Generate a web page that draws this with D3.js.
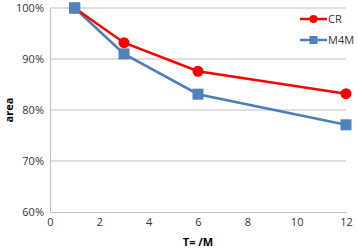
<!DOCTYPE html>
<html>
<head>
<meta charset="utf-8">
<script src="https://cdn.jsdelivr.net/npm/d3@7"></script>
<style>
  body { margin: 0; background: #fff; }
  svg text { font-family: "Open Sans", "Liberation Sans", sans-serif; }
</style>
</head>
<body>
<div id="chart"></div>
<script>
// data
const xVals = [1, 3, 6, 12];
const crVals = [1.00, 0.932, 0.876, 0.832];
const m4mVals = [1.00, 0.91, 0.831, 0.771];
const xTicks = [0, 2, 4, 6, 8, 10, 12];
const yTicks = [0.6, 0.7, 0.8, 0.9, 1.0];
const seriesNames = ["CR", "M4M"];

const width = 358, height = 251;
const margin = {top: 8, right: 12, bottom: 39, left: 50};

const svg = d3.select("#chart").append("svg")
  .attr("width", width)
  .attr("height", height);

const x = d3.scaleLinear().domain([0, 12]).range([margin.left, width - margin.right]);
const y = d3.scaleLinear().domain([0.6, 1.0]).range([height - margin.bottom, margin.top]);

// gridlines
svg.append("g")
  .selectAll("line")
  .data(yTicks.slice(1))
  .enter().append("line")
    .attr("x1", x(0)).attr("x2", x(12))
    .attr("y1", d => y(d)).attr("y2", d => y(d))
    .attr("stroke", "#bfbfbf").attr("stroke-width", 1);

// y axis
const yAxis = svg.append("g")
  .attr("transform", `translate(${margin.left},0)`)
  .call(d3.axisLeft(y).tickValues(yTicks).tickFormat(d3.format(".0%")).tickSize(0).tickPadding(6));
yAxis.select(".domain").attr("stroke", "#bfbfbf");
yAxis.selectAll("text").attr("font-size", "11px").attr("fill", "#333");

// x axis
const xAxis = svg.append("g")
  .attr("transform", `translate(0,${height - margin.bottom})`)
  .call(d3.axisBottom(x).tickValues(xTicks).tickSize(0).tickPadding(6));
xAxis.select(".domain").attr("stroke", "#bfbfbf");
xAxis.selectAll("text").attr("font-size", "11px").attr("fill", "#333");

// axis titles
svg.append("text")
  .attr("transform", `translate(13,${(y(0.6) + y(1.0)) / 2}) rotate(-90)`)
  .attr("text-anchor", "middle")
  .attr("font-size", "11px")
  .attr("font-weight", "bold")
  .text("area");

svg.append("text")
  .attr("x", (x(0) + x(12)) / 2)
  .attr("y", height - 5)
  .attr("text-anchor", "middle")
  .attr("font-size", "11px")
  .attr("font-weight", "bold")
  .text("T= /M");

const line = d3.line().x(d => x(d[0])).y(d => y(d[1]));

// M4M series
const m4m = xVals.map((v, i) => [v, m4mVals[i]]);
svg.append("path").datum(m4m)
  .attr("d", line).attr("fill", "none")
  .attr("stroke", "#4a7ebb").attr("stroke-width", 2.5);
svg.selectAll(".sq").data(m4m).enter().append("rect")
  .attr("class", "sq")
  .attr("x", d => x(d[0]) - 5.5).attr("y", d => y(d[1]) - 5.5)
  .attr("width", 11).attr("height", 11)
  .attr("fill", "#4f81bd");

// CR series
const cr = xVals.map((v, i) => [v, crVals[i]]);
svg.append("path").datum(cr)
  .attr("d", line).attr("fill", "none")
  .attr("stroke", "#ff0000").attr("stroke-width", 2.5);
svg.selectAll(".dot").data(cr).enter().append("circle")
  .attr("class", "dot")
  .attr("cx", d => x(d[0])).attr("cy", d => y(d[1]))
  .attr("r", 5.5)
  .attr("fill", "#ff0000");

// redraw M4M first point on top (square covers circle at x=1)
svg.append("rect")
  .datum(m4m[0])
  .attr("x", d => x(d[0]) - 5.5).attr("y", d => y(d[1]) - 5.5)
  .attr("width", 11).attr("height", 11)
  .attr("fill", "#4f81bd");

// legend
const legend = svg.append("g").attr("transform", "translate(300,19)");
const legColors = ["#ff0000", "#4a7ebb"];
seriesNames.forEach((name, i) => {
  const g = legend.append("g").attr("transform", `translate(0,${i * 21})`);
  g.append("line").attr("x1", 0).attr("x2", 27).attr("y1", 0).attr("y2", 0)
    .attr("stroke", legColors[i]).attr("stroke-width", 2.5);
  if (i === 0) {
    g.append("circle").attr("cx", 13.5).attr("cy", 0).attr("r", 4).attr("fill", "#ff0000");
  } else {
    g.append("rect").attr("x", 9.5).attr("y", -4).attr("width", 8).attr("height", 8).attr("fill", "#4f81bd");
  }
  g.append("text").attr("x", 28).attr("y", 4).attr("font-size", "11px").attr("fill", "#333").text(name);
});
</script>
</body>
</html>
